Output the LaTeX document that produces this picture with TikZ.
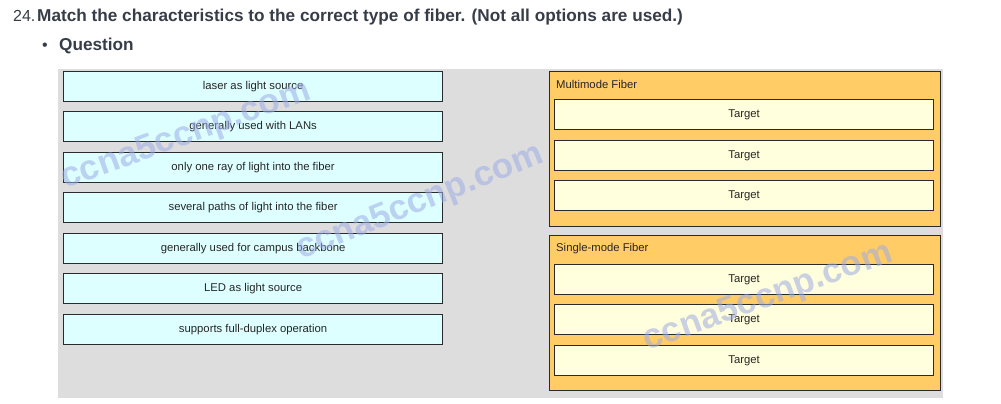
\documentclass[tikz,border=0pt]{standalone}
\usepackage{fontspec}
\setmainfont{Liberation Sans}
\definecolor{headc}{HTML}{373D48}
\definecolor{panelc}{HTML}{DDDDDD}
\definecolor{srcfill}{HTML}{DDFFFF}
\definecolor{contfill}{HTML}{FFCC66}
\definecolor{tgtfill}{HTML}{FFFFDD}
\definecolor{edgec}{HTML}{2A2A2A}
\definecolor{wmc}{HTML}{9EACE6}
\begin{document}
\begin{tikzpicture}[x=1pt,y=-1pt,
  boxtext/.style={font=\fontsize{11.3}{13}\selectfont,text=black!85},
  src/.style={boxtext,draw=edgec,line width=1.2pt,fill=srcfill,minimum width=379pt,minimum height=30pt,inner sep=0pt,anchor=north west},
  tgt/.style={boxtext,draw=edgec,line width=1.2pt,fill=tgtfill,minimum width=379pt,minimum height=30pt,inner sep=0pt,anchor=north west},
  cont/.style={draw=edgec,line width=1.2pt,fill=contfill,minimum width=391pt,minimum height=155pt,inner sep=0pt,anchor=north west},
  contlbl/.style={boxtext,anchor=west,inner sep=0pt},
  wm/.style={text=wmc,opacity=0.55,font=\fontsize{35}{35}\selectfont\bfseries,inner sep=0pt}]
\useasboundingbox (0,0) rectangle (1001,404);
\fill[white] (0,0) rectangle (1001,404);
% heading
\node[anchor=base west,inner sep=0pt,text=headc,font=\fontsize{16}{18}\selectfont] (num) at (13,22) {24.};
\node[anchor=base west,inner sep=0pt,text=headc,font=\fontsize{17.2}{19}\selectfont\bfseries] (head) at (37,22) {Match the characteristics to the correct type of fiber. (Not all options are used.)};
\node[anchor=base west,inner sep=0pt,text=headc,font=\fontsize{16}{18}\selectfont] (bul) at (42,51) {\textbullet};
\node[anchor=base west,inner sep=0pt,text=headc,font=\fontsize{17.2}{19}\selectfont\bfseries] (q) at (59,51) {Question};
% panel
\fill[panelc] (58,69) rectangle (943,398);
% sources
\node[src] (s1) at (63,71) {laser as light source};
\node[src] (s2) at (63,111) {generally used with LANs};
\node[src] (s3) at (63,152) {only one ray of light into the fiber};
\node[src] (s4) at (63,192) {several paths of light into the fiber};
\node[src] (s5) at (63,233) {generally used for campus backbone};
\node[src] (s6) at (63,273) {LED as light source};
\node[src] (s7) at (63,314) {supports full-duplex operation};
% containers
\node[cont] (mm) at (549,71) {};
\node[contlbl] (mml) at (556,84) {Multimode Fiber};
\node[tgt] (m1) at (554,99) {Target};
\node[tgt] (m2) at (554,140) {Target};
\node[tgt] (m3) at (554,180) {Target};
\node[cont] (sm) at (549,235) {};
\node[contlbl] (sml) at (556,249) {Single-mode Fiber};
\node[tgt] (t1) at (554,264) {Target};
\node[tgt] (t2) at (554,304) {Target};
\node[tgt] (t3) at (554,345) {Target};
% watermarks
\node[wm,rotate=20] (w1) at (186,136) {ccna5ccnp.com};
\node[wm,rotate=22] (w2) at (420,203) {ccna5ccnp.com};
\node[wm,rotate=20] (w3) at (768,298) {ccna5ccnp.com};
\end{tikzpicture}
\end{document}
